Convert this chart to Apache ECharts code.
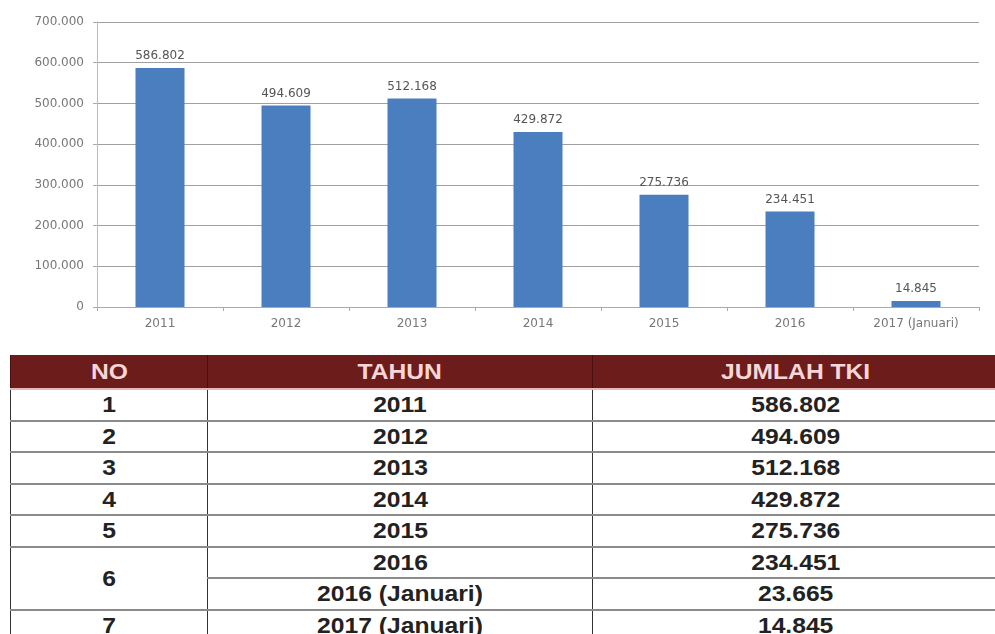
<!DOCTYPE html>
<html>
<head>
<meta charset="utf-8">
<script src="https://cdn.jsdelivr.net/npm/echarts@6/dist/echarts.min.js"></script>
<style>
  html,body{margin:0;padding:0;background:#fff;width:995px;height:634px;overflow:hidden;}
  #chart{position:absolute;left:0;top:0;width:995px;height:340px;}
  #tbl{position:absolute;left:10px;top:355px;width:989px;border-collapse:collapse;table-layout:fixed;
       font-family:"Liberation Sans",Arial,sans-serif;font-weight:bold;font-size:22px;color:#222;}
  #tbl th{background:#6d1c1c;color:#f6d6d6;height:33px;padding:0;border-left:1px solid #4a1010;border-right:1px solid #4a1010;border-bottom:2px solid #e8b8b8;line-height:31px;}
  #tbl td{height:29.5px;padding:0;text-align:center;line-height:27px;border-top:2px solid #8a8a8a;border-bottom:2px solid #8a8a8a;border-left:1.5px solid #333;border-right:1.5px solid #333;}
  #tbl span{display:inline-block;transform:scaleX(1.12);}
</style>
</head>
<body>
<div id="chart"></div>
<table id="tbl"></table>
<script>
// ---- chart data ----
const categories = ['2011', '2012', '2013', '2014', '2015', '2016', '2017 (Januari)'];
const jumlahTKI = [586802, 494609, 512168, 429872, 275736, 234451, 14845];
const yTicks = [0, 100000, 200000, 300000, 400000, 500000, 600000, 700000];

// ---- table data ----
const tableHeaders = ['NO', 'TAHUN', 'JUMLAH TKI'];
const tableNo = ['1', '2', '3', '4', '5', '6', '', '7'];
const tableTahun = ['2011', '2012', '2013', '2014', '2015', '2016', '2016 (Januari)', '2017 (Januari)'];
const tableJumlah = [586802, 494609, 512168, 429872, 275736, 234451, 23665, 14845];

function fmt(v) {
  return String(v).replace(/\B(?=(\d{3})+(?!\d))/g, '.');
}

const chart = echarts.init(document.getElementById('chart'));
chart.setOption({
  animation: false,
  grid: { left: 97, right: 16, top: 22, bottom: 33 },
  xAxis: {
    type: 'category',
    data: categories,
    axisLine: { lineStyle: { color: '#aaa', width: 1 } },
    axisTick: { show: true, length: 4, lineStyle: { color: '#aaa' } },
    axisLabel: { color: '#777', fontFamily: 'DejaVu Sans', fontSize: 12, margin: 11 }
  },
  yAxis: {
    type: 'value',
    min: yTicks[0],
    max: yTicks[yTicks.length - 1],
    interval: yTicks[1] - yTicks[0],
    axisLine: { show: true, lineStyle: { color: '#bbb', width: 1 } },
    axisTick: { show: true, length: 4, lineStyle: { color: '#aaa' } },
    splitLine: { lineStyle: { color: '#a0a0a0', width: 1 } },
    axisLabel: { color: '#777', fontFamily: 'DejaVu Sans', fontSize: 12, margin: 13, formatter: fmt }
  },
  series: [{
    type: 'bar',
    data: jumlahTKI,
    barWidth: 49,
    itemStyle: { color: '#4a7ebf' },
    label: {
      show: true, position: 'top', distance: 6,
      color: '#555', fontFamily: 'DejaVu Sans', fontSize: 12,
      formatter: p => fmt(p.value)
    }
  }]
});

// ---- build table ----
const tbl = document.getElementById('tbl');
const colWidths = ['197px', '385px', '407px'];
let html = '<colgroup>' + colWidths.map(w => '<col style="width:' + w + '">').join('') + '</colgroup>';
html += '<tr>' + tableHeaders.map(h => '<th><span>' + h + '</span></th>').join('') + '</tr>';
for (let i = 0; i < tableTahun.length; i++) {
  html += '<tr>';
  if (tableNo[i] !== '') {
    const span = (i + 1 < tableNo.length && tableNo[i + 1] === '') ? 2 : 1;
    html += '<td' + (span > 1 ? ' rowspan="2"' : '') + '><span>' + tableNo[i] + '</span></td>';
  }
  html += '<td><span>' + tableTahun[i] + '</span></td><td><span>' + fmt(tableJumlah[i]) + '</span></td></tr>';
}
tbl.innerHTML = html;
</script>
</body>
</html>
